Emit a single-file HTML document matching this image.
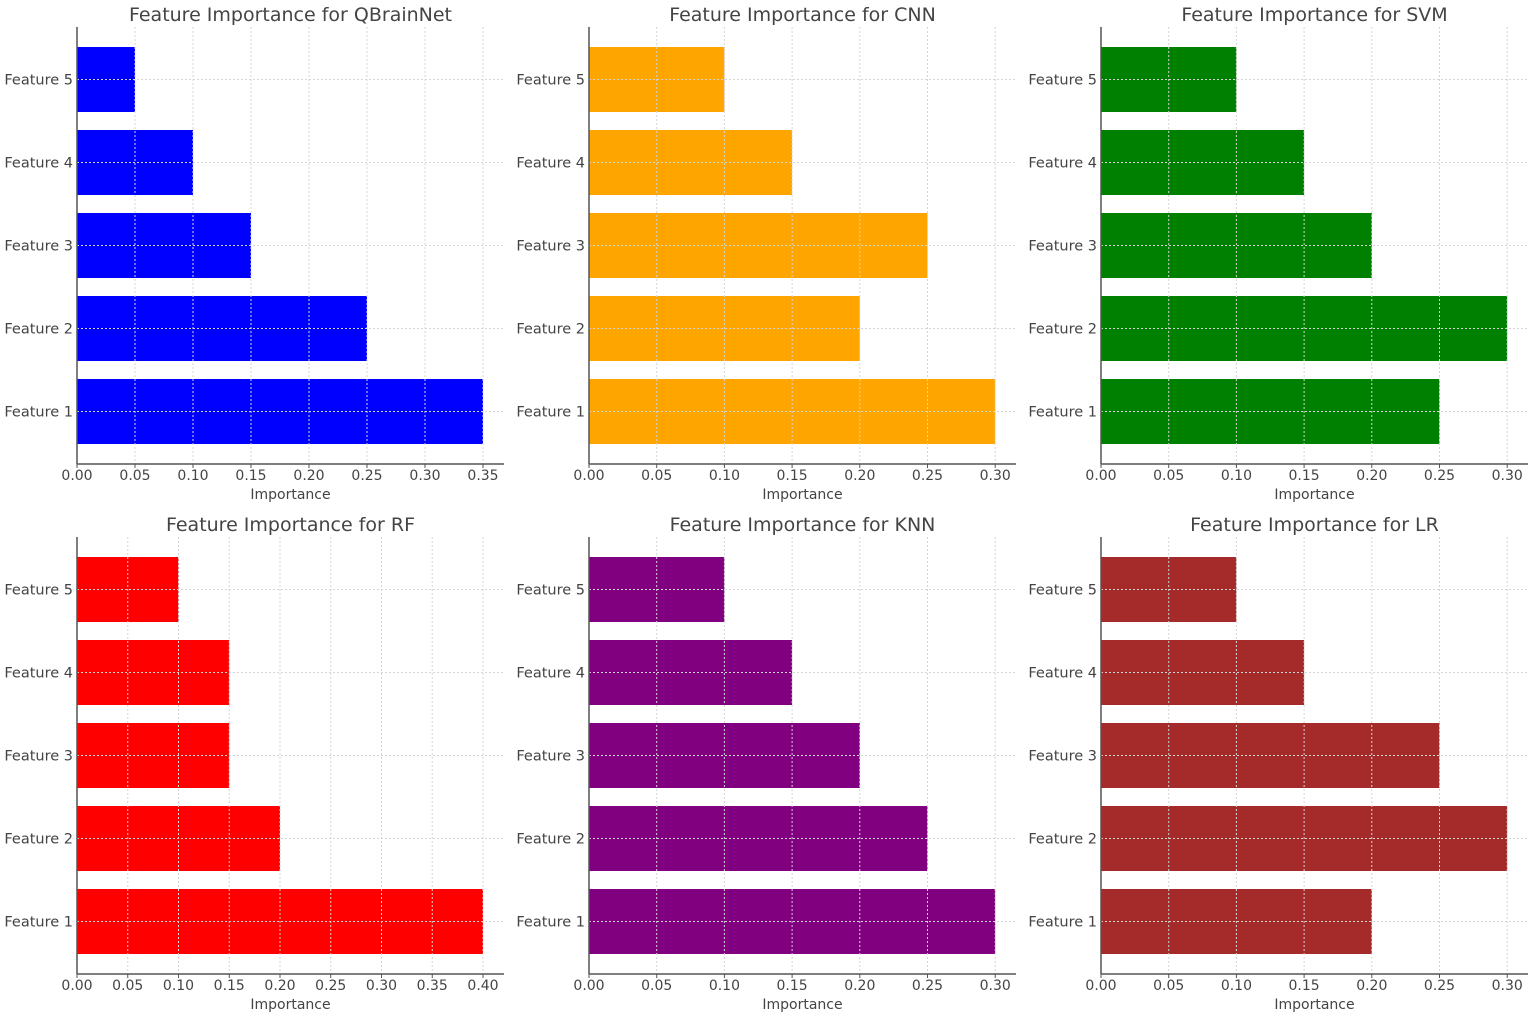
<!DOCTYPE html>
<html><head><meta charset="utf-8"><style>
html,body{margin:0;padding:0;background:#fff;}
svg{display:block;font-family:"DejaVu Sans","Liberation Sans",sans-serif;}
</style></head><body>
<svg id="s" width="1535" height="1018" xmlns="http://www.w3.org/2000/svg"></svg>
<script>
var P=[
["QBrainNet","#0000ff",[0.35,0.25,0.15,0.10,0.05],58,0.35],
["CNN","#ffa500",[0.30,0.20,0.25,0.15,0.10],67.7,0.30],
["SVM","#008000",[0.25,0.30,0.20,0.15,0.10],67.7,0.30],
["RF","#ff0000",[0.40,0.20,0.15,0.15,0.10],50.75,0.40],
["KNN","#800080",[0.30,0.25,0.20,0.15,0.10],67.7,0.30],
["LR","#a52a2a",[0.20,0.30,0.25,0.15,0.10],67.7,0.30]];
var X=[77,589,1101],h='';
P.forEach(function(p,i){
 var x0=X[i%3],oy=i<3?0:510,sc=p[3]/0.05,right=x0+427,top=oy+27,bot=oy+464;
 var centers=[411.5,328.5,245.5,162.5,79.5];
 for(var k=0;k<5;k++){var y=oy+centers[k];
  h+='<rect x="'+x0+'" y="'+(y-32.5)+'" width="'+(p[2][k]*sc)+'" height="65" fill="'+p[1]+'"/>';
  h+='<text x="'+(x0-4)+'" y="'+(y+5)+'" font-size="14.5" fill="#444" text-anchor="end">Feature '+(k+1)+'</text>';
  h+='<line x1="'+x0+'" x2="'+right+'" y1="'+y+'" y2="'+y+'" stroke="#d5d5d5" stroke-width="1" stroke-dasharray="2,2"/>';}
 for(var t=0;t<=p[4]+1e-9;t+=0.05){var x=x0+t*sc;
  if(t>0)h+='<line x1="'+x+'" x2="'+x+'" y1="'+top+'" y2="'+bot+'" stroke="#d5d5d5" stroke-width="1" stroke-dasharray="2,2"/>';
  h+='<line x1="'+x+'" x2="'+x+'" y1="'+bot+'" y2="'+(bot+4)+'" stroke="#555"/>';
  h+='<text x="'+x+'" y="'+(oy+480)+'" font-size="14" fill="#444" text-anchor="middle">'+t.toFixed(2)+'</text>';}
 h+='<line x1="'+x0+'" x2="'+x0+'" y1="'+top+'" y2="'+bot+'" stroke="#555" stroke-width="1.5"/>';
 h+='<line x1="'+x0+'" x2="'+right+'" y1="'+bot+'" y2="'+bot+'" stroke="#555" stroke-width="1.5"/>';
 var cx=(x0+right)/2;
 h+='<text x="'+cx+'" y="'+(oy+499)+'" font-size="14" fill="#444" text-anchor="middle">Importance</text>';
 h+='<text x="'+cx+'" y="'+(oy+21)+'" font-size="19" fill="#444" text-anchor="middle">Feature Importance for '+p[0]+'</text>';
});
document.getElementById('s').innerHTML=h;
</script>
</body></html>
